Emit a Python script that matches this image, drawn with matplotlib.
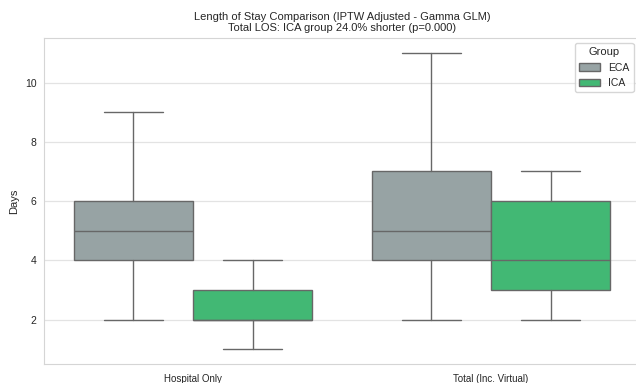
import numpy as np
import matplotlib.pyplot as plt
import seaborn as sns
from matplotlib.patches import Patch

# LOS summary per measure and group (days)
measures = ['Hospital Only', 'Total (Inc. Virtual)']
groups = ['ECA', 'ICA']
whislo = {'ECA': [2, 2], 'ICA': [1, 2]}
q1 = {'ECA': [4, 4], 'ICA': [2, 3]}
med = {'ECA': [5, 5], 'ICA': [2, 4]}
q3 = {'ECA': [6, 7], 'ICA': [3, 6]}
whishi = {'ECA': [9, 11], 'ICA': [4, 7]}

palette = {'ECA': '#95a5a6', 'ICA': '#2ecc71'}

sns.set_style('whitegrid')
plt.rcParams['font.family'] = ['Liberation Sans', 'DejaVu Sans']

fig = plt.figure(figsize=(6.36, 3.83), dpi=100)
ax = fig.add_axes([0.0692, 0.0496, 0.937, 0.851])

width = 0.4
line_col = '#676767'
x = np.arange(len(measures))
for j, g in enumerate(groups):
    stats = []
    for i in range(len(measures)):
        stats.append({'whislo': whislo[g][i], 'q1': q1[g][i], 'med': med[g][i],
                      'q3': q3[g][i], 'whishi': whishi[g][i], 'fliers': []})
    pos = x + (j - 0.5) * width
    color = sns.desaturate(palette[g], 0.75)
    ax.bxp(stats, positions=pos, widths=width, patch_artist=True,
           showfliers=False, manage_ticks=False,
           boxprops=dict(facecolor=color, edgecolor=line_col, linewidth=1.0),
           medianprops=dict(color=line_col, linewidth=1.0),
           whiskerprops=dict(color=line_col, linewidth=1.0),
           capprops=dict(color=line_col, linewidth=1.0),
           capwidths=width / 2)

ax.set_xlim(-0.5, 1.5)
ax.set_ylim(0.5, 11.5)
ax.set_xticks(x)
ax.set_xticklabels(measures, fontsize=7)
ax.set_yticks([2, 4, 6, 8, 10])
ax.tick_params(axis='y', labelsize=7.5, pad=2)
ax.tick_params(axis='x', pad=4)
ax.xaxis.grid(False)
ax.yaxis.grid(True, color='#e3e3e3', linewidth=0.9)
for s in ax.spines.values():
    s.set_color('#d5d5d5')
ax.set_ylabel('Days', fontsize=8, labelpad=4)
ax.set_xlabel('')
ax.set_title('Length of Stay Comparison (IPTW Adjusted - Gamma GLM)\n'
             'Total LOS: ICA group 24.0% shorter (p=0.000)', fontsize=8, pad=5)

handles = [Patch(facecolor=sns.desaturate(palette[g], 0.75), edgecolor=line_col, label=g)
           for g in groups]
ax.legend(handles=handles, title='Group', loc='upper right', fontsize=7.5,
          title_fontsize=8, frameon=True, bbox_to_anchor=(0.998, 1.0))

fig.savefig('out.png', dpi=100)
